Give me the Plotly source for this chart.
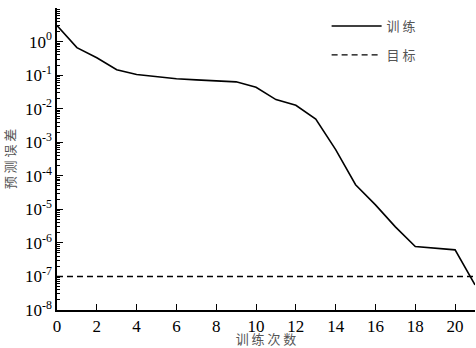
import plotly.graph_objects as go

epochs = list(range(0, 22))
train_err = [3.0, 0.66, 0.33, 0.145, 0.104, 0.089, 0.078, 0.072, 0.067, 0.063,
             0.0433, 0.0186, 0.0126, 0.0049, 6.0e-4, 5.4e-5, 1.36e-5, 3.0e-6,
             7.8e-7, 7.0e-7, 6.2e-7, 5.6e-8]
goal = 1e-7
goal_x = [0, 21]
goal_y = [goal, goal]

ytick_vals = [10.0 ** k for k in range(-8, 2)]
ytick_text = ["10<sup>%d</sup>" % k for k in range(-8, 2)]
xtick_vals = list(range(0, 21, 2))

fig = go.Figure()
fig.add_trace(go.Scatter(x=epochs, y=train_err, mode="lines", name="训 练",
                         line=dict(color="black", width=1.6), legendgroup="a"))
fig.add_trace(go.Scatter(x=goal_x, y=goal_y, mode="lines", name="目 标",
                         line=dict(color="black", width=1.4, dash="6px,4px"), legendgroup="b"))

serif = "Liberation Serif"
cjk = "Noto Sans CJK SC"

fig.update_layout(
    width=476, height=348,
    margin=dict(l=57, r=1, t=8, b=38),
    paper_bgcolor="white", plot_bgcolor="white",
    showlegend=True,
    legend=dict(x=0.645, y=0.99, xanchor="left", yanchor="top",
                font=dict(family=cjk, size=13, color="#555"),
                bgcolor="rgba(0,0,0,0)", tracegroupgap=9,
                traceorder="grouped", itemwidth=50),
    xaxis=dict(range=[0, 21], tickvals=xtick_vals, ticks="inside", ticklen=6,
               tickwidth=1.2, tickcolor="black",
               showline=True, linecolor="black", linewidth=1.5,
               showgrid=False, zeroline=False,
               tickfont=dict(family=serif, size=17, color="black"),
               title=dict(text="训 练 次 数", font=dict(family=cjk, size=13, color="#555"),
                          standoff=3)),
    yaxis=dict(type="log", range=[-8, 1], tickvals=ytick_vals, ticktext=ytick_text,
               ticks="inside", ticklen=6, tickwidth=1.2, tickcolor="black",
               showline=True, linecolor="black", linewidth=1.5,
               showgrid=False, zeroline=False,
               minor=dict(ticks="inside", ticklen=3, tickcolor="black", tickwidth=1,
                          dtick="D1", showgrid=False),
               tickfont=dict(family=serif, size=17, color="black"),
               title=dict(text="预 测 误 差", font=dict(family=cjk, size=13, color="#555"),
                          standoff=6)),
)

fig.write_html("out.html")
